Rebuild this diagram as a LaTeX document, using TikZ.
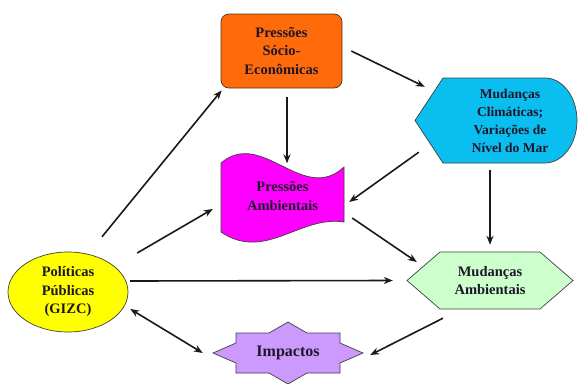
\documentclass[tikz,border=0pt]{standalone}
\usepackage{fontspec}
\setmainfont{Liberation Serif}
\usetikzlibrary{arrows.meta,calc}
\definecolor{txt}{RGB}{30,22,40}
\definecolor{cOrange}{RGB}{255,106,10}
\definecolor{cCyan}{RGB}{10,190,240}
\definecolor{cMag}{RGB}{255,0,255}
\definecolor{cGreen}{RGB}{204,255,204}
\definecolor{cYellow}{RGB}{255,255,0}
\definecolor{cLav}{RGB}{204,153,255}
\tikzset{
  lbl/.style={font=\fontsize{14.5}{18.5}\selectfont\bfseries, text=txt, align=center, inner sep=0pt},
  outl/.style={draw=black!75, line width=0.7pt},
  arr/.style={-{Stealth[length=9pt,width=7pt]}, line width=1.6pt, black!90},
  darr/.style={{Stealth[length=9pt,width=7pt]}-{Stealth[length=9pt,width=7pt]}, line width=1.6pt, black!90}
}
\begin{document}
\begin{tikzpicture}[x=1pt,y=-1pt]
\useasboundingbox (0,0) rectangle (581,383);
% Pressoes Socio-Economicas
\node[lbl, draw=black!60!brown, line width=0.7pt, fill=cOrange, rounded corners=8pt,
      minimum width=121pt, minimum height=74pt] (pse) at (281.5,51)
      {Pressões\\Sócio-\\Econômicas};
% Mudancas Climaticas (display shape)
\path[outl, fill=cCyan] (415,120.5) -- (443,78) -- (545,78)
   arc[start angle=90, end angle=-90, x radius=32, y radius=-42.5] -- (443,163) -- cycle;
\node[lbl, font=\fontsize{13.5}{18}\selectfont\bfseries, minimum width=134pt, minimum height=85pt] (mc) at (510,120.5)
      {Mudanças\\Climáticas;\\Variações de\\Nível do Mar};
% Pressoes Ambientais (wave)
\path[outl, fill=cMag] (221,163) .. controls (262,128) and (303,205) .. (344,167)
   -- (344,222) .. controls (300,215) and (265,262) .. (221,232) -- cycle;
\node[lbl, minimum width=123pt, minimum height=85pt] (pa) at (282.5,196)
      {Pressões\\Ambientais};
% Mudancas Ambientais (hexagon)
\path[outl, fill=cGreen] (407,280.5) -- (440,252) -- (540,252) -- (573,280.5)
   -- (540,309) -- (440,309) -- cycle;
\node[lbl, minimum width=166pt, minimum height=57pt] (ma) at (490,280.5)
      {Mudanças\\Ambientais};
% Politicas Publicas (ellipse)
\path[outl, fill=cYellow] (68,292) ellipse[x radius=60, y radius=40];
\node[lbl, minimum width=120pt, minimum height=80pt] (pol) at (68,292)
      {Políticas\\Públicas\\(GIZC)};
% Impactos (8-point star)
\path[outl, fill=cLav] (288,353) ++(75,0) -- ++(-23,-10) -- ++(0,-10) -- ++(-33,0)
   -- ++(-19,-11) -- ++(-19,11) -- ++(-33,0) -- ++(0,10) -- ++(-23,10)
   -- ++(23,10) -- ++(0,10) -- ++(33,0) -- ++(19,11) -- ++(19,-11) -- ++(33,0)
   -- ++(0,-10) -- cycle;
\node[lbl, font=\fontsize{16}{19}\selectfont\bfseries, minimum width=150pt, minimum height=62pt] (imp) at (288,353) {Impactos};
% connectors
\draw[arr] ($(pol.north)+(34,-15)$) -- ($(pse.south west)+(1,2)$);
\draw[arr] ($(pse.east)+(9,0)$) -- ($(mc.north west)+(-18,9)$);
\draw[arr] ($(pse.south)+(5.5,9)$) -- ($(pa.north)+(4.5,10)$);
\draw[arr] ($(mc.south west)+(-24,-11)$) -- ($(pa.east)+(5,6)$);
\draw[arr] ($(mc.south)+(-20,7)$) -- ($(ma.north)+(0,-7)$);
\draw[arr] ($(pa.east)+(8,22)$) -- ($(ma.west)+(10,-18.5)$);
\draw[arr] ($(pol.east)+(9,-39)$) -- ($(pa.west)+(-8,13)$);
\draw[arr] ($(pol.east)+(2,-11)$) -- ($(ma.west)+(-14,0)$);
\draw[arr] ($(ma.south)+(-47,9)$) -- ($(imp.east)+(7,2)$);
\draw[darr] ($(pol.east)+(2,17)$) -- ($(imp.west)+(-10,0)$);
\end{tikzpicture}
\end{document}
